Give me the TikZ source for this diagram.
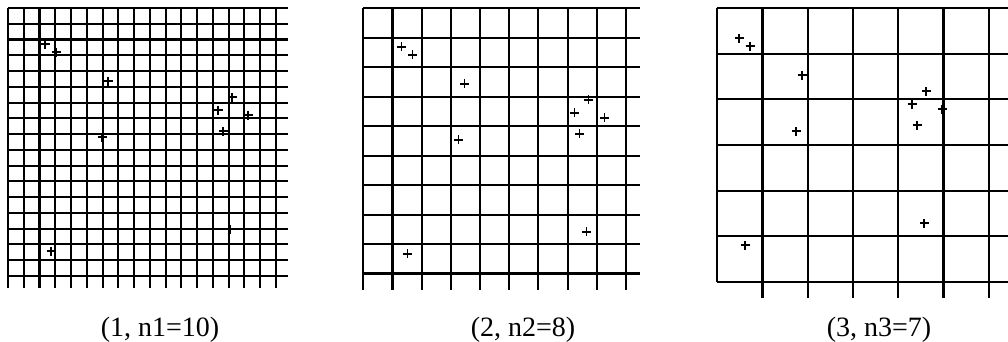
\documentclass[tikz,border=0pt]{standalone}
\usepackage{fontspec}
\setmainfont{Liberation Serif}
\usepackage{tikz}

% sample points, relative to the first grid corner
\newcommand{\samplepts}{37/36, 48/44, 100/73, 94/129, 224/89, 210/102, 240/107, 215/123, 222/221, 43/243}

\tikzset{
	gridline/.style = {line width=2.1pt},
	crossmark/.style = {line width=1.8pt},
	caption/.style = {anchor=base, inner sep=0pt, font=\fontsize{28}{32}\selectfont}
}

\begin{document}
\begin{tikzpicture}[x=1pt,y=-1pt]
	\useasboundingbox (0,0) rectangle (1008,341);
	% grid 1 (fine)
	\foreach \k in {0,...,17} {
		\draw [gridline] (8+15.76*\k,8) -- (8+15.76*\k,288);
		\draw [gridline] (8,8+15.76*\k) -- (288,8+15.76*\k);
	}
	% grid 2
	\foreach \k in {0,...,9} {
		\draw [gridline] (363.3+29.19*\k,8.3) -- (363.3+29.19*\k,290);
		\draw [gridline] (363.3,8.3+29.47*\k) -- (640,8.3+29.47*\k);
	}
	% grid 3 (coarse)
	\draw [gridline] (717.3,8.3) -- (717.3,281.7);
	\foreach \k in {1,...,6}
		\draw [gridline] (717.3+45.23*\k,8.3) -- (717.3+45.23*\k,298);
	\foreach \k in {0,...,6}
		\draw [gridline] (717.3,8.3+45.57*\k) -- (1008,8.3+45.57*\k);
	% the points
	\foreach \dx/\dy in {8/8, 364.5/10.8, 702/2.3} {
		\scope[shift={(\dx,\dy)}]
		\foreach \px/\py in \samplepts
			\draw [crossmark] (\px-4.5,\py) -- (\px+4.5,\py) (\px,\py-4.5) -- (\px,\py+4.5);
		\endscope
	}
	\node [caption] (capa) at (160,336) {(1, n1=10)};
	\node [caption] (capb) at (523,336) {(2, n2=8)};
	\node [caption] (capc) at (879,336) {(3, n3=7)};
\end{tikzpicture}
\end{document}
